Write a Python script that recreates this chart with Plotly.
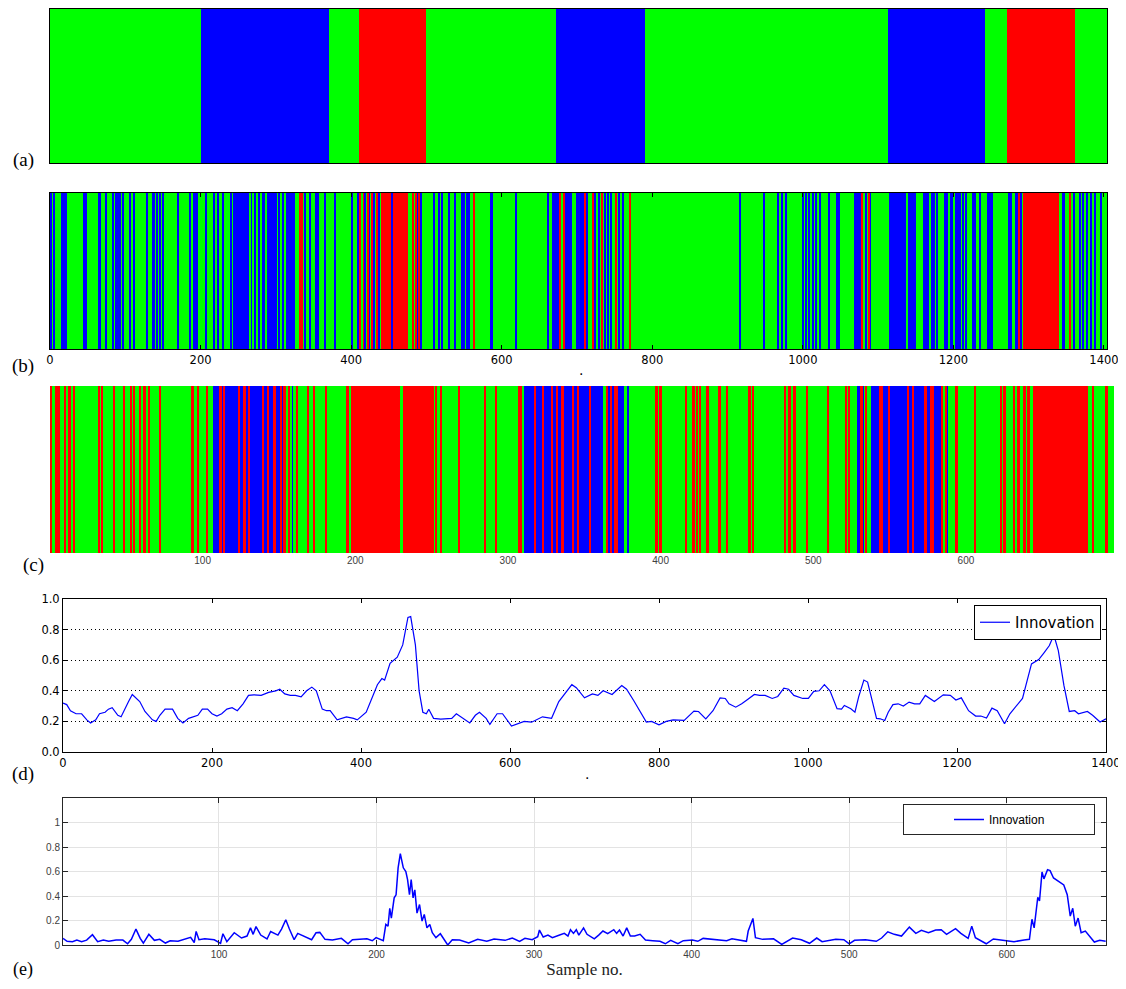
import plotly.graph_objects as go

W, H = 1126, 989          # reference picture size
OFF = 8                   # default page margin around the plot div
FW, FH = W - OFF, H - 2 * OFF
GREEN, BLUE, RED = '#00ff00', '#0000ff', '#ff0000'

# ---------------- Panel (a): ground-truth segments ----------------
a_edges = [0, 200, 370, 410, 500, 672, 790, 1113, 1242, 1271, 1361, 1404]
a_states = ['G', 'B', 'G', 'R', 'G', 'B', 'G', 'B', 'G', 'R', 'G']

# ---------------- Panel (b): stripes over 0..1404 ----------------
b_range = [0, 1404]
b_blue_blocks = [(43.7, 48.5), (64, 68), (74, 76), (82.5, 85), (87, 88.6), (95.7, 97.5),
                 (106, 107), (111, 113), (128, 129.5), (150, 151.5), (245.6, 302),
                 (313, 325), (338, 340), (365, 366.5), (377, 380), (408, 410), (423, 425.5),
                 (430, 432), (529, 531), (584.5, 588.5), (667, 677), (683.6, 693), (699, 709),
                 (728, 731), (1068.6, 1077.4), (1114, 1137), (1140, 1150.4), (1159.7, 1167),
                 (1187, 1207), (1224.8, 1230), (1272.6, 1278), (1282, 1286.7), (1344, 1347.8),
                 (1359.7, 1362)]
b_blue_lines = [2.2, 5.3, 16, 19, 22, 90, 92.6, 137, 139, 142.5, 146, 170, 186.5, 191, 194, 196,
                207, 218, 223, 230.6, 240, 244, 304, 310, 345, 353, 356, 401, 419, 436.6, 454,
                488, 492.5, 509.7, 517, 521, 537.6, 547, 550.7, 554, 557, 619.5, 662, 713.7, 724,
                738, 741, 745.6, 756.6, 761, 916.8, 948, 967, 973, 978, 1001, 1004.4, 1008,
                1013.7, 1017.7, 1023.5, 1034.5, 1045.6, 1048.7, 1084, 1090, 1171.7, 1175, 1179,
                1209, 1213, 1216.8, 1235.8, 1246, 1249, 1252, 1290, 1368.6, 1373, 1377.4, 1383,
                1388.5, 1396.5]
b_red_blocks = [(331.6, 333), (411, 413), (416, 418), (439, 476), (1077.4, 1080), (1293, 1340.7)]
b_red_lines = [335, 422, 428, 434, 483, 486.8, 490, 563, 678, 682.7, 711, 721, 733, 752, 770,
               1088.5, 1288, 1355]
b_green_lines = [266, 270, 275, 280, 286.5, 1194.5, 1200.5]
b_ticks = [0, 200, 400, 600, 800, 1000, 1200, 1400]

# ---------------- Panel (c): stripes over 0..697 ----------------
c_range = [0, 697]
c_blue_blocks = [(106.5, 159.3), (306.3, 379.2), (538, 588.4)]
c_blue_lines = [529.6, 530.7, 532.9]
c_red_blocks = [(71.5, 72.5), (197.4, 251.4), (316.8, 318.3), (334.6, 336.4), (369.5, 372),
                (543, 546), (548.8, 550.3), (564.5, 566.2), (576.5, 579.3), (644.2, 679.9),
                (691.3, 693)]
c_red_lines = [1, 4.1, 5.7, 10, 12.9, 15.9, 32.2, 34.2, 42, 48.8, 53.2, 55.1, 59, 62.1, 65.1,
               93.5, 97.2, 103, 111.8, 114, 124, 127.5, 130.5, 139.7, 142.9, 147.3, 151.6, 153.8,
               156.6, 162, 169, 173, 181, 195, 253, 256.2, 268, 285, 292.2, 307.6, 309, 323.3,
               329.2, 332.5, 342.9, 346, 353.8, 365.2, 367.8, 397.4, 400, 417, 421.8, 424, 426.1,
               430.9, 438.8, 443.6, 458.4, 460.6, 481.7, 484.5, 487.8, 495.9, 509.6, 521.6,
               523.7, 531.8, 534.6, 562.3, 573.7, 584.5, 586.7, 593.9, 606.3, 623.3, 625.5,
               631.6, 634.6, 638.6, 641.2, 683.2]
c_green_lines = [155.3, 158.2, 230.4, 310.2, 363.4, 377.2, 585.8]
c_ticks = [100, 200, 300, 400, 500, 600]

# ---------------- Panel (d): innovation over 0..1400 ----------------
d_x = [0, 5, 10, 17.5, 25, 32, 37, 44, 49, 56.5, 61, 66, 73.6, 78, 88, 93, 103, 110, 120, 125,
       130, 137, 147, 154, 161, 168.6, 181, 187, 194, 200, 206.6, 213, 220, 227, 234, 241.7, 249,
       256, 266, 276, 285.5, 291, 297.7, 305, 312, 319.6, 327, 334, 340, 348, 353.7, 358.6, 368,
       380.5, 390, 395, 407, 412, 422, 428, 431.7, 439, 448.7, 456, 463, 466.7, 473, 478, 483,
       487.7, 491, 497.4, 507, 521.8, 528, 546, 553.5, 559, 568, 573, 582.7, 590, 597, 602, 619,
       629, 643.6, 655.8, 665.5, 674.4, 683, 689, 700, 710.6, 718, 725, 737, 750, 756.5, 766,
       776, 783, 790, 800, 809.7, 819, 833.8, 846.9, 853, 862.8, 872.5, 882, 889, 894, 903, 911,
       918, 928, 935, 942.5, 952, 959.4, 967.6, 974, 981, 993, 1000.5, 1007.7, 1015, 1022,
       1029.5, 1039, 1045, 1048.8, 1057.5, 1063, 1068, 1075, 1080, 1087, 1092, 1097, 1103,
       1107.7, 1114, 1121, 1128, 1135.7, 1143, 1150, 1157.5, 1169.6, 1181.6, 1191, 1198.5,
       1205.8, 1215.5, 1225, 1232, 1239.6, 1246.9, 1254, 1263.8, 1271, 1280.7, 1287.9, 1300,
       1309.7, 1317, 1324, 1330, 1336, 1343.5, 1350.7, 1358, 1363, 1375, 1382, 1392, 1400]
d_y = [0.32, 0.31, 0.27, 0.25, 0.25, 0.21, 0.19, 0.21, 0.25, 0.26, 0.28, 0.29, 0.24, 0.23, 0.33,
       0.376, 0.33, 0.265, 0.21, 0.20, 0.24, 0.28, 0.28, 0.22, 0.19, 0.22, 0.24, 0.28, 0.28, 0.25,
       0.235, 0.25, 0.28, 0.29, 0.27, 0.315, 0.37, 0.374, 0.37, 0.39, 0.40, 0.41, 0.38, 0.37,
       0.37, 0.36, 0.40, 0.424, 0.40, 0.28, 0.27, 0.27, 0.21, 0.23, 0.22, 0.21, 0.26, 0.32, 0.44,
       0.48, 0.47, 0.58, 0.62, 0.70, 0.88, 0.885, 0.70, 0.40, 0.26, 0.25, 0.28, 0.22, 0.215,
       0.22, 0.25, 0.19, 0.24, 0.26, 0.22, 0.18, 0.25, 0.25, 0.20, 0.17, 0.20, 0.195, 0.23, 0.22,
       0.33, 0.39, 0.44, 0.42, 0.354, 0.38, 0.37, 0.40, 0.376, 0.435, 0.41, 0.337, 0.25, 0.196,
       0.2, 0.178, 0.2, 0.21, 0.207, 0.267, 0.265, 0.217, 0.27, 0.354, 0.35, 0.315, 0.293, 0.315,
       0.34, 0.376, 0.37, 0.37, 0.35, 0.363, 0.417, 0.41, 0.37, 0.35, 0.35, 0.396, 0.40, 0.44,
       0.40, 0.283, 0.28, 0.304, 0.283, 0.26, 0.36, 0.47, 0.457, 0.326, 0.22, 0.217, 0.206, 0.26,
       0.31, 0.315, 0.30, 0.326, 0.315, 0.315, 0.37, 0.33, 0.374, 0.37, 0.34, 0.354, 0.27, 0.235,
       0.235, 0.222, 0.287, 0.27, 0.185, 0.25, 0.304, 0.35, 0.576, 0.604, 0.65, 0.696, 0.765,
       0.663, 0.435, 0.265, 0.27, 0.25, 0.265, 0.24, 0.196, 0.217]
d_yticks = [0.0, 0.2, 0.4, 0.6, 0.8, 1.0]

# ---------------- Panel (e): innovation over 1..663 ----------------
e_x = [1, 3.6, 7, 9.8, 12.8, 16, 19.7, 23, 26.6, 30, 34.7, 39, 42, 44.4, 47.3, 50, 52, 55.5, 59,
       62.4, 66, 69, 74, 78.5, 82, 84.3, 85.5, 87.3, 91, 97, 99.3, 101, 102.5, 105, 109.7, 114.3,
       117.8, 120, 121.7, 123.5, 126.5, 130.5, 132.8, 137.4, 139.7, 142.4, 144.7, 147.7, 150,
       154.7, 158.8, 161.6, 164, 167.3, 172, 177.7, 181.9, 184.7, 189.3, 193.9, 197.3, 199.7,
       204.3, 205.9, 207.3, 208.4, 209.4, 211.2, 212.4, 213.7, 215.1, 217, 218.6, 219.7, 220.9,
       222, 223.2, 224.3, 225.7, 227.3, 228.9, 230.3, 232, 233.8, 235.4, 237.7, 240.5, 242.8,
       245.2, 248.1, 252.7, 258.5, 264.2, 270, 274.6, 281.6, 286.2, 290.8, 294.2, 298.8, 302.3,
       303.4, 305.8, 308.8, 311.6, 316.2, 319.2, 321.5, 323.1, 325, 326.8, 328.4, 331.4, 333.6,
       338.2, 341, 343.7, 346.7, 350.6, 352.4, 354.2, 356.5, 358.8, 361.1, 363.8, 367.3, 370.7,
       375.3, 379.9, 383.3, 386.7, 391.3, 394.7, 400.5, 403.9, 407.3, 414.2, 422.2, 425.6, 429.7,
       434.8, 435.9, 438.9, 440.5, 445.1, 452, 457.2, 464.1, 469.6, 474.8, 479.4, 482.8, 487.4,
       491.5, 496.6, 500, 503.4, 510.3, 517.2, 520.6, 524.5, 528.6, 533.2, 538.2, 542.3, 545.8,
       550.3, 554.9, 558.4, 561.8, 567.5, 570.9, 575.5, 577.8, 580.1, 587, 591.5, 597.3, 604.6,
       611, 614.4, 616, 617.4, 619.7, 620.8, 622.4, 623.6, 625.9, 627.5, 629.7, 632.7, 636.2,
       638.4, 640.3, 641.9, 643.5, 645.3, 647.2, 649.9, 653.3, 655.6, 659, 662.8]
e_y = [0.054, 0.03, 0.027, 0.04, 0.027, 0.04, 0.084, 0.027, 0.04, 0.03, 0.04, 0.04, 0.01, 0.046,
       0.13, 0.054, 0.016, 0.087, 0.038, 0.046, 0.016, 0.035, 0.03, 0.046, 0.062, 0.02, 0.111,
       0.043, 0.05, 0.043, 0.03, 0.014, 0.092, 0.027, 0.10, 0.057, 0.073, 0.14, 0.087, 0.15,
       0.081, 0.049, 0.11, 0.081, 0.13, 0.206, 0.13, 0.043, 0.095, 0.068, 0.043, 0.10, 0.103,
       0.046, 0.04, 0.054, 0.01, 0.043, 0.046, 0.05, 0.035, 0.06, 0.035, 0.168, 0.154, 0.30,
       0.22, 0.385, 0.41, 0.63, 0.745, 0.63, 0.60, 0.534, 0.41, 0.534, 0.385, 0.45, 0.26, 0.33,
       0.195, 0.25, 0.14, 0.168, 0.10, 0.06, 0.092, 0.046, 0.0, 0.043, 0.04, 0.016, 0.046, 0.03,
       0.049, 0.038, 0.057, 0.03, 0.054, 0.043, 0.068, 0.122, 0.065, 0.081, 0.06, 0.081, 0.095,
       0.073, 0.125, 0.095, 0.125, 0.081, 0.14, 0.087, 0.05, 0.081, 0.114, 0.092, 0.125, 0.095,
       0.122, 0.073, 0.14, 0.073, 0.073, 0.087, 0.04, 0.035, 0.03, 0.01, 0.038, 0.01, 0.035,
       0.04, 0.03, 0.054, 0.043, 0.035, 0.05, 0.043, 0.03, 0.114, 0.217, 0.06, 0.046, 0.05,
       0.005, 0.057, 0.043, 0.014, 0.057, 0.027, 0.035, 0.046, 0.043, 0.01, 0.038, 0.043, 0.03,
       0.057, 0.108, 0.087, 0.073, 0.146, 0.095, 0.12, 0.10, 0.122, 0.125, 0.087, 0.133, 0.095,
       0.054, 0.154, 0.06, 0.01, 0.049, 0.04, 0.027, 0.04, 0.046, 0.21, 0.14, 0.39, 0.36, 0.596,
       0.54, 0.615, 0.607, 0.547, 0.52, 0.49, 0.41, 0.236, 0.30, 0.154, 0.22, 0.10, 0.114, 0.06,
       0.024, 0.038, 0.03]
e_xticks = [100, 200, 300, 400, 500, 600]
e_yticks = [0, 0.2, 0.4, 0.6, 0.8, 1]
e_yticktext = ['0', '0.2', '0.4', '0.6', '0.8', '1']

COLORS = {'G': GREEN, 'B': BLUE, 'R': RED}

fig = go.Figure()


def add_blocks(blocks, color, xa, ya):
    if not blocks:
        return
    fig.add_trace(go.Bar(
        x=[(s + e) / 2 for s, e in blocks], y=[1] * len(blocks), base=0,
        width=[e - s for s, e in blocks],
        marker=dict(color=color, line=dict(width=0)),
        xaxis=xa, yaxis=ya, showlegend=False, hoverinfo='skip'))


def add_lines(pos, width, color, xa, ya):
    add_blocks([(p - width / 2, p + width / 2) for p in pos], color, xa, ya)


# (a)
for st in ['G', 'B', 'R']:
    segs = [(a_edges[i], a_edges[i + 1]) for i, s in enumerate(a_states) if s == st]
    add_blocks(segs, COLORS[st], 'x', 'y')

# (b)
add_blocks([tuple(b_range)], GREEN, 'x2', 'y2')
add_blocks(b_blue_blocks, BLUE, 'x2', 'y2')
add_blocks(b_red_blocks, RED, 'x2', 'y2')
add_lines(b_blue_lines, 1.8, BLUE, 'x2', 'y2')
add_lines(b_red_lines, 1.8, RED, 'x2', 'y2')
add_lines(b_green_lines, 1.8, GREEN, 'x2', 'y2')

# (c)
add_blocks([tuple(c_range)], GREEN, 'x3', 'y3')
add_blocks(c_blue_blocks, BLUE, 'x3', 'y3')
add_blocks(c_red_blocks, RED, 'x3', 'y3')
add_lines(c_blue_lines, 1.1, BLUE, 'x3', 'y3')
add_lines(c_red_lines, 1.2, RED, 'x3', 'y3')
add_lines(c_green_lines, 1.1, GREEN, 'x3', 'y3')

# (d)
fig.add_trace(go.Scatter(x=d_x, y=d_y, mode='lines', name='Innovation',
                         line=dict(color=BLUE, width=1.2), xaxis='x4', yaxis='y4',
                         legend='legend'))
# (e)
fig.add_trace(go.Scatter(x=e_x, y=e_y, mode='lines', name='Innovation',
                         line=dict(color=BLUE, width=1.5), xaxis='x5', yaxis='y5',
                         legend='legend2'))


def px2fx(px):
    return (px - OFF) / FW


def px2fy(py):
    return 1 - (py - OFF) / FH


def xd(l, r):
    return [px2fx(l), px2fx(r)]


def yd(top, bottom):
    return [px2fy(bottom), px2fy(top)]


MPL = dict(family='DejaVu Sans', size=11.5, color='black')
MAT = dict(family='Liberation Sans', size=10, color='#404040')

hidden = dict(showticklabels=False, ticks='', showgrid=False, zeroline=False)

fig.update_layout(
    width=FW, height=FH, margin=dict(l=0, r=0, t=0, b=0, autoexpand=False),
    paper_bgcolor='white', plot_bgcolor='white',
    barmode='overlay', bargap=0,
    xaxis=dict(domain=xd(50, 1107), range=b_range, anchor='y', showline=True, mirror=True,
               linecolor='black', linewidth=1, **hidden),
    yaxis=dict(domain=yd(9, 163), range=[0, 1], anchor='x', showline=True, mirror=True,
               linecolor='black', linewidth=1, **hidden),
    xaxis2=dict(domain=xd(50, 1107), range=b_range, anchor='y2', showline=True,
                mirror='allticks', linecolor='black', linewidth=1, tickvals=b_ticks,
                ticks='inside', ticklen=4, tickcolor='black', tickfont=MPL,
                ticklabeloverflow='allow', showgrid=False, zeroline=False),
    yaxis2=dict(domain=yd(193, 349), range=[0, 1], anchor='x2', showline=True, mirror=True,
                linecolor='black', linewidth=1, **hidden),
    xaxis3=dict(domain=xd(50, 1114), range=c_range, anchor='y3', showline=False,
                tickvals=c_ticks, ticks='', tickfont=MAT, showgrid=False, zeroline=False),
    yaxis3=dict(domain=yd(386, 553), range=[0, 1], anchor='x3', showline=False, **hidden),
    xaxis4=dict(domain=xd(63, 1106), range=[0, 1400], anchor='y4', showline=True,
                mirror='allticks', linecolor='black', linewidth=1, tickvals=b_ticks,
                ticks='inside', ticklen=4, tickcolor='black', tickfont=MPL,
                ticklabeloverflow='allow', showgrid=False, zeroline=False),
    yaxis4=dict(domain=yd(599, 752), range=[0, 1], anchor='x4', showline=True,
                mirror='allticks', linecolor='black', linewidth=1, tickvals=d_yticks,
                tickformat='.1f', ticks='inside', ticklen=4, tickcolor='black', tickfont=MPL,
                showgrid=True, gridcolor='black', griddash='1px,3px', gridwidth=1,
                zeroline=False),
    xaxis5=dict(domain=xd(63, 1106), range=[1, 663], anchor='y5', showline=True,
                mirror='allticks', linecolor='#262626', linewidth=1, tickvals=e_xticks,
                ticks='inside', ticklen=5, tickcolor='#262626', tickfont=MAT,
                showgrid=True, gridcolor='#e3e3e3', gridwidth=1, zeroline=False,
                title=dict(text='Sample no.', standoff=4,
                           font=dict(family='Liberation Serif', size=17, color='#222'))),
    yaxis5=dict(domain=yd(798, 945), range=[0, 1.2], anchor='x5', showline=True,
                mirror='allticks', linecolor='#262626', linewidth=1, tickvals=e_yticks,
                ticktext=e_yticktext, ticks='inside', ticklen=5, tickcolor='#262626',
                tickfont=MAT, showgrid=True, gridcolor='#e3e3e3', gridwidth=1, zeroline=False),
    legend=dict(x=px2fx(1101), xanchor='right', y=px2fy(605), yanchor='top',
                bordercolor='black', borderwidth=1, bgcolor='white',
                font=dict(family='DejaVu Sans', size=15, color='black'), itemwidth=30),
    legend2=dict(x=px2fx(1095), xanchor='right', y=px2fy(804), yanchor='top',
                 bordercolor='#262626', borderwidth=1, bgcolor='white',
                 font=dict(family='Liberation Sans', size=12, color='black'), itemwidth=30,
                 orientation='h', entrywidth=100, indentation=45),
)

labels = [('(a)', 23, 160, 19), ('(b)', 23, 366, 19), ('(c)', 33, 565, 19),
          ('(d)', 23, 774, 19), ('(e)', 23, 969, 18)]
for txt, px, py, fs in labels:
    fig.add_annotation(text=txt, x=px2fx(px), y=px2fy(py), xref='paper', yref='paper',
                       showarrow=False, xanchor='center', yanchor='middle',
                       font=dict(family='Liberation Serif', size=fs, color='black'))
for px, py in [(581, 370), (587, 774)]:
    fig.add_annotation(text='.', x=px2fx(px), y=px2fy(py), xref='paper', yref='paper',
                       showarrow=False, xanchor='center', yanchor='middle',
                       font=dict(family='DejaVu Sans', size=14, color='black'))

fig.write_html('out.html')
